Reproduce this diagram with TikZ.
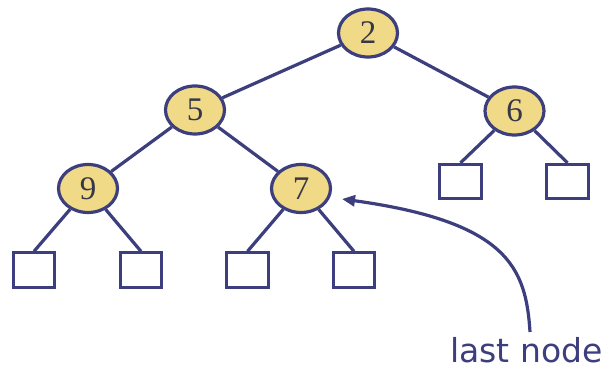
\documentclass[tikz,border=0pt]{standalone}
\usepackage{fontspec}
\setmainfont{Liberation Serif}
\newfontfamily\labelfont{DejaVu Sans}
\usetikzlibrary{arrows.meta,shapes.geometric}
\definecolor{navy}{RGB}{60,62,125}
\definecolor{keyfill}{RGB}{240,217,135}
\definecolor{digit}{RGB}{55,55,70}
\begin{document}
\begin{tikzpicture}[x=1pt,y=-1pt,
  keynode/.style={ellipse,draw=navy,line width=3.2pt,fill=keyfill,minimum width=59pt,minimum height=48pt,inner sep=0pt,
    font=\fontsize{33}{33}\selectfont,text=digit},
  leafbox/.style={rectangle,draw=navy,line width=2.8pt,fill=white,minimum width=41.5pt,minimum height=34.5pt,inner sep=0pt},
  edge/.style={draw=navy,line width=3.2pt},
  pointer/.style={draw=navy,line width=3.2pt,-{Triangle[length=13pt,width=11pt]}}]
\useasboundingbox (0,0) rectangle (606,371);
\fill[white] (0,0) rectangle (606,371);
% keys
\node[keynode] (n2) at (368,33) {2};
\node[keynode] (n5) at (195,110) {5};
\node[keynode] (n6) at (514.5,111) {6};
\node[keynode] (n9) at (88,188.5) {9};
\node[keynode] (n7) at (301,188.5) {7};
% leaves
\node[leafbox] (l6a) at (460.5,181.5) {};
\node[leafbox] (l6b) at (567.5,181.5) {};
\node[leafbox] (l9a) at (34,270) {};
\node[leafbox] (l9b) at (141,270) {};
\node[leafbox] (l7a) at (247.5,270) {};
\node[leafbox] (l7b) at (354,270) {};
% edges
\path[edge] (n2) -- (n5);
\path[edge] (n2) -- (n6);
\path[edge] (n5) -- (n9);
\path[edge] (n5) -- (n7);
\path[edge] (n6) -- (l6a.north);
\path[edge] (n6) -- (l6b.north);
\path[edge] (n9) -- (l9a.north);
\path[edge] (n9) -- (l9b.north);
\path[edge] (n7) -- (l7a.north);
\path[edge] (n7) -- (l7b.north);
% pointer
\node[anchor=base west,inner sep=0pt,text=navy,font=\labelfont\fontsize{33}{33}\selectfont] (lbl) at (450,363) {last node};
\coordinate (ptail) at (530,332);
\coordinate (phead) at (342,199);
\path[pointer] (ptail) .. controls (526,268) and (508,222) .. (phead);
\end{tikzpicture}
\end{document}
